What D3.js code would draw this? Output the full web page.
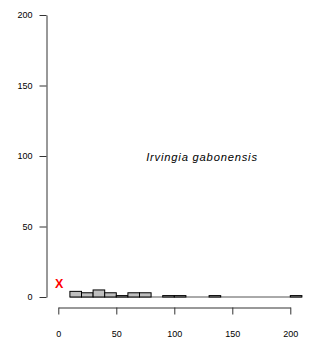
<!DOCTYPE html>
<html><head><meta charset="utf-8">
<script src="https://cdn.jsdelivr.net/npm/d3@7/dist/d3.min.js"></script>
<style>body{margin:0;background:#fff}svg{display:block}</style>
</head><body><svg id="c" width="334" height="347"></svg>
<script>
const binStarts = [10,20,30,40,50,60,70,80,90,100,110,120,130,140,150,160,170,180,190,200];
const counts    = [4, 3, 5, 3, 1, 3, 3, 0, 1, 1, 0, 0, 1, 0, 0, 0, 0, 0, 0, 1];
const binWidth = 10;
const xTicks = [0,50,100,150,200];
const yTicks = [0,50,100,150,200];
const label = "Irvingia gabonensis";
const markerX = 0, markerY = 9.5;

const svg = d3.select("#c");
const x = d3.scaleLinear().domain([0,200]).range([58.3,290.3]);
const y = d3.scaleLinear().domain([0,200]).range([297,15]);

// y axis
const ya = svg.append("g").attr("transform","translate(46.5,0)")
  .call(d3.axisLeft(y).tickValues(yTicks).tickSize(7).tickPadding(7).tickSizeOuter(0));
ya.select(".domain").attr("stroke","#333");
ya.selectAll(".tick line").attr("stroke","#333");
ya.selectAll("text").attr("font-family","Liberation Sans, Arial, sans-serif").attr("font-size","9px").attr("fill","#000");

// x axis
const xa = svg.append("g").attr("transform","translate(0,307.5)")
  .call(d3.axisBottom(x).tickValues(xTicks).tickSize(7).tickPadding(16).tickSizeOuter(0));
xa.select(".domain").attr("stroke","#333");
xa.selectAll(".tick line").attr("stroke","#333");
xa.selectAll("text").attr("font-family","Liberation Sans, Arial, sans-serif").attr("font-size","9px").attr("fill","#000");

// baseline under the histogram
const first = binStarts[0], last = binStarts[binStarts.length-1] + binWidth;
svg.append("line").attr("x1",x(first)).attr("x2",x(last)).attr("y1",y(0)).attr("y2",y(0))
  .attr("stroke","#555").attr("stroke-width",1);

// bars
svg.append("g").selectAll("rect").data(binStarts.filter((d,i)=>counts[i]>0)).join("rect")
  .attr("x",(d)=>x(d))
  .attr("width",x(binWidth)-x(0))
  .attr("y",(d)=>y(counts[binStarts.indexOf(d)]))
  .attr("height",(d)=>y(0)-y(counts[binStarts.indexOf(d)]))
  .attr("fill","#bebebe").attr("stroke","#000").attr("stroke-width",1);

// marker
svg.append("text").attr("x",x(markerX)+0.8).attr("y",y(markerY)).attr("dy","0.36em")
  .attr("text-anchor","middle").attr("fill","#ff0000").attr("font-weight","bold")
  .attr("font-family","Liberation Sans, Arial, sans-serif").attr("font-size","12.5px").text("X");

// label
svg.append("text").attr("x",202).attr("y",160.6).attr("text-anchor","middle")
  .attr("font-style","italic").attr("font-family","Liberation Sans, Arial, sans-serif")
  .attr("font-size","11.2px").attr("letter-spacing","0.8px").attr("fill","#000").text(label);
</script></body></html>
